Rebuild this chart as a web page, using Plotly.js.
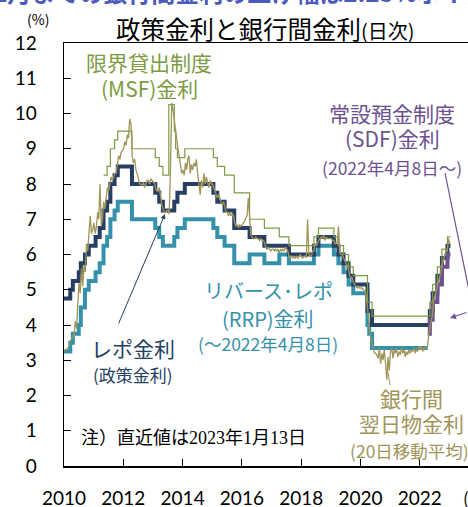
<!DOCTYPE html>
<html>
<head>
<meta charset="utf-8">
<script src="https://cdn.plot.ly/plotly-3.0.1.min.js"></script>
<style>
html, body { margin: 0; padding: 0; background: #fff; }
#graphDiv { width: 468px; height: 507px; }
</style>
</head>
<body>
<div id="graphDiv"></div>
<script>
// policy rates (step changes), %
var repoDates = ['2010-01-01','2010-03-19','2010-04-20','2010-07-02','2010-07-27','2010-09-16','2010-11-02','2011-01-25','2011-03-17','2011-05-03','2011-06-16','2011-07-26','2011-09-16','2011-10-25','2012-04-17','2013-01-29','2013-03-19','2013-05-03','2013-09-20','2013-10-29','2014-01-28','2015-01-15','2015-03-04','2015-06-02','2015-09-29','2016-04-05','2016-10-04','2017-08-02','2018-06-06','2018-08-01','2019-02-07','2019-04-04','2019-06-06','2019-08-07','2019-10-04','2020-03-27','2020-05-22','2022-05-04','2022-06-08','2022-08-05','2022-09-30','2022-12-07','2023-01-13'];
var repoRate = [4.75,5.00,5.25,5.50,5.75,6.00,6.25,6.50,6.75,7.25,7.50,8.00,8.25,8.50,8.00,7.75,7.50,7.25,7.50,7.75,8.00,7.75,7.50,7.25,6.75,6.50,6.25,6.00,6.25,6.50,6.25,6.00,5.75,5.40,5.15,4.40,4.00,4.40,4.90,5.40,5.90,6.25,6.25];

var rrpDates = ['2010-01-01','2010-03-19','2010-04-20','2010-07-02','2010-07-27','2010-09-16','2010-11-02','2011-01-25','2011-03-17','2011-05-03','2011-06-16','2011-07-26','2011-09-16','2011-10-25','2012-04-17','2013-01-29','2013-03-19','2013-05-03','2013-09-20','2013-10-29','2014-01-28','2015-01-15','2015-03-04','2015-06-02','2015-09-29','2016-04-05','2016-10-04','2017-04-06','2017-08-02','2018-06-06','2018-08-01','2019-02-07','2019-04-04','2019-06-06','2019-08-07','2019-10-04','2020-03-27','2020-04-17','2020-05-22','2022-04-08'];
var rrpRate = [3.25,3.50,3.75,4.00,4.50,5.00,5.25,5.50,5.75,6.25,6.50,7.00,7.25,7.50,7.00,6.75,6.50,6.25,6.50,6.75,7.00,6.75,6.50,6.25,5.75,6.00,5.75,6.00,5.75,6.00,6.25,6.00,5.75,5.50,5.15,4.90,4.00,3.75,3.35,3.35];

var msfDates = ['2011-05-03','2011-06-16','2011-07-26','2011-09-16','2011-10-25','2012-04-17','2013-01-29','2013-03-19','2013-05-03','2013-07-15','2013-09-20','2013-10-07','2013-10-29','2014-01-28','2015-01-15','2015-03-04','2015-06-02','2015-09-29','2016-04-05','2016-10-04','2017-04-06','2017-08-02','2018-06-06','2018-08-01','2019-02-07','2019-04-04','2019-06-06','2019-08-07','2019-10-04','2020-03-27','2020-05-22','2022-05-04','2022-06-08','2022-08-05','2022-09-30','2022-12-07','2023-01-13'];
var msfRate = [8.25,8.50,9.00,9.25,9.50,9.00,8.75,8.50,8.25,10.25,9.50,9.00,8.75,9.00,8.75,8.50,8.25,7.75,7.00,6.75,6.50,6.25,6.50,6.75,6.50,6.25,6.00,5.65,5.40,4.65,4.25,4.65,5.15,5.65,6.15,6.50,6.50];

var sdfDates = ['2022-04-08','2022-05-04','2022-06-08','2022-08-05','2022-09-30','2022-12-07','2023-01-13'];
var sdfRate = [3.75,4.15,4.65,5.15,5.65,6.00,6.00];

// interbank overnight rate, 20-day average, read on the 5th and 20th of each month
var callRate = [
  3.25,3.30,3.30,3.35,3.40,3.55,3.60,3.70,3.70,4.10,3.90,4.60,5.20,4.90,5.60,5.10,5.70,5.50,6.30,6.10,6.80,7.10,6.60,6.70, // 2010
  6.90,6.60,6.80,7.20,7.00,8.00,6.80,7.00,7.50,7.30,7.60,7.90,7.80,8.00,8.20,8.10,8.20,8.30,8.30,8.60,8.80,8.70,8.90,8.95, // 2011
  9.00,9.20,9.10,9.40,9.30,9.85,9.70,8.80,8.60,8.70,8.40,8.30,8.10,8.00,8.00,7.95,8.05,7.90,8.00,8.10,8.10,8.00,8.15,8.10, // 2012
  8.05,8.05,7.85,7.80,7.80,7.90,7.60,7.40,7.30,7.20,7.20,7.25,7.25,7.15,8.50,10.30,10.10,9.80,9.60,9.20,9.00,8.80,8.60,8.30, // 2013
  8.40,8.25,8.60,8.40,8.70,8.80,8.30,8.55,8.40,8.60,8.50,8.70,8.30,8.00,7.70,8.10,7.90,8.30,8.00,8.20,8.00,7.90,8.10,8.00, // 2014
  8.00,7.90,7.75,7.70,7.60,7.70,7.60,7.50,7.40,7.50,7.30,7.20,7.20,7.10,7.20,7.10,7.15,7.10,6.90,6.80,6.85,6.75,6.85,6.80, // 2015
  6.85,6.90,6.95,7.05,7.10,7.60,7.00,6.55,6.50,6.45,6.45,6.50,6.45,6.45,6.40,6.45,6.40,6.40,6.35,6.20,6.15,6.20,6.15,6.10, // 2016
  6.15,6.15,6.10,6.15,6.10,6.15,6.05,6.15,6.10,6.15,6.10,6.20,6.15,6.10,5.90,5.95,5.95,5.90,5.95,5.90,5.95,5.90,5.95,6.00, // 2017
  5.95,5.90,5.95,5.95,5.90,7.00,6.00,5.95,5.95,6.10,6.10,6.30,6.25,6.30,6.40,6.45,6.50,6.45,6.55,6.40,6.50,6.45,6.45,6.45, // 2018
  6.45,6.40,6.40,6.30,6.30,6.35,6.80,6.05,6.00,6.00,5.90,5.85,5.75,5.70,5.60,5.40,5.35,5.35,5.20,5.15,5.10,5.05,5.10,5.05, // 2019
  5.05,5.05,5.00,4.95,4.95,4.70,4.30,3.90,3.60,3.50,3.30,3.20,3.20,3.15,3.05,3.35,2.90,3.20,3.00,3.30,2.90,2.45,3.10,2.70, // 2020
  3.25,3.35,3.05,3.30,3.20,3.35,3.10,3.25,3.15,3.35,3.20,3.30,3.10,3.25,3.15,3.30,3.20,3.30,3.25,3.35,3.20,3.30,3.25,3.40, // 2021
  3.30,3.40,3.25,3.35,3.30,3.35,3.40,3.70,3.90,4.10,4.30,4.70,4.80,4.95,5.10,5.25,5.40,5.60,5.70,5.90,6.00,6.10,6.10,6.45, // 2022
  6.30 // 2023
];
var callDates = callRate.map(function(v, i){
  var y = 2010 + Math.floor(i / 24);
  var m = Math.floor((i % 24) / 2) + 1;
  var d = (i % 2 == 0) ? '05' : '20';
  return y + '-' + (m < 10 ? '0' + m : m) + '-' + d;
});

var jpFont = '"Noto Sans CJK JP", sans-serif';

// pixel -> paper (plot area 64..468 x 43..466)
function px(x){ return (x - 64) / 404; }
function py(y){ return (466 - y) / 423; }

function label(text, x, y, size, color, anchor){
  return {text: text, xref: 'paper', yref: 'paper', x: px(x), y: py(y),
    xanchor: anchor || 'center', yanchor: 'middle', showarrow: false,
    font: {family: jpFont, size: size, color: color}};
}

var cMsf = '#7d9b42', cCall = '#a09459', cRepo = '#263f62', cRrp = '#3591aa', cSdf = '#6c5290';

var data = [
  {x: rrpDates, y: rrpRate, type: 'scatter', mode: 'lines', line: {shape: 'hv', color: cRrp, width: 4}},
  {x: repoDates, y: repoRate, type: 'scatter', mode: 'lines', line: {shape: 'hv', color: cRepo, width: 4}},
  {x: sdfDates, y: sdfRate, type: 'scatter', mode: 'lines', line: {shape: 'hv', color: cSdf, width: 4}},
  {x: msfDates, y: msfRate, type: 'scatter', mode: 'lines', line: {shape: 'hv', color: cMsf, width: 1.2}},
  {x: callDates, y: callRate, type: 'scatter', mode: 'lines', line: {color: cCall, width: 1.3}}
];

var annotations = [
  {text: '年12月までの銀行間金利の上げ幅は2.25%ポイント', xref: 'paper', yref: 'paper', x: px(234), y: py(-9),
    xanchor: 'center', yanchor: 'middle', showarrow: false,
    font: {family: jpFont, size: 24, color: '#4a5abd', weight: 'bold'}},
  label('(%)', 38, 19, 14, '#000'),
  label('政策金利と銀行間金利<span style="font-size:20px">(日次)</span>', 265, 28, 24.5, '#000'),
  label('限界貸出制度', 149, 62, 21, cMsf),
  label('(MSF)金利', 149, 88, 21, cMsf),
  label('常設預金制度', 392, 113, 21, cSdf),
  label('(SDF)金利', 392, 138, 21, cSdf),
  label('(2022年4月8日～)', 392, 167, 17.5, cSdf),
  label('レポ金利', 133, 348, 21, cRepo),
  label('(政策金利)', 133, 374, 17, cRepo),
  label('リバース･レポ', 268, 290, 20, cRrp),
  label('(RRP)金利', 268, 318, 20, cRrp),
  label('(～2022年4月8日)', 268, 343, 17.5, cRrp),
  label('銀行間', 411, 398, 21, cCall),
  label('翌日物金利', 411, 423, 21, cCall),
  label('(20日移動平均)', 348, 450, 17.5, cCall, 'left'),
  {text: '注）直近値は2023年1月13日', xref: 'paper', yref: 'paper', x: px(79), y: py(438),
    xanchor: 'left', yanchor: 'middle', showarrow: false,
    font: {family: '"Liberation Serif", "Noto Sans CJK JP", serif', size: 18, color: '#000'}},
  label('(年)', 461, 497, 17, '#000', 'left'),
  // arrows
  {text: '', xref: 'paper', yref: 'paper', x: px(165), y: py(214), ax: -47, ay: 111,
    showarrow: true, arrowhead: 2, arrowsize: 1, arrowwidth: 1, arrowcolor: cRepo},
  {text: '', xref: 'paper', yref: 'paper', x: px(450), y: py(318), ax: 20, ay: -6,
    showarrow: true, arrowhead: 2, arrowsize: 1, arrowwidth: 1.2, arrowcolor: cSdf}
];

var shapes = [
  {type: 'line', xref: 'paper', yref: 'paper', x0: px(445), y0: py(173), x1: px(472), y1: py(305),
    line: {color: cSdf, width: 1.2}},
  {type: 'line', xref: 'paper', yref: 'paper', x0: px(390), y0: py(385), x1: px(388), y1: py(372),
    line: {color: cCall, width: 1}}
];

var layout = {
  width: 468,
  height: 507,
  margin: {l: 64, r: 0, t: 43, b: 41},
  paper_bgcolor: '#fff',
  plot_bgcolor: '#fff',
  showlegend: false,
  xaxis: {
    type: 'date',
    range: ['2010-01-01', '2023-08-17'],
    tick0: '2010-01-01',
    dtick: 'M24',
    tickformat: '%Y',
    ticks: 'inside',
    ticklen: 7,
    tickcolor: '#000',
    showgrid: false,
    zeroline: false,
    showline: true,
    linecolor: '#000',
    linewidth: 1.5,
    mirror: true,
    ticklabelstandoff: 15,
    tickfont: {family: 'Lato, sans-serif', size: 19, color: '#000'}
  },
  yaxis: {
    range: [0, 12],
    dtick: 1,
    ticks: 'inside',
    ticklen: 7,
    tickcolor: '#000',
    showgrid: false,
    zeroline: false,
    showline: true,
    linecolor: '#000',
    linewidth: 1.5,
    ticklabelstandoff: 22,
    tickfont: {family: 'Lato, sans-serif', size: 19, color: '#000'}
  },
  annotations: annotations,
  shapes: shapes
};

Plotly.newPlot('graphDiv', data, layout, {displayModeBar: false, staticPlot: true});
</script>
</body>
</html>
